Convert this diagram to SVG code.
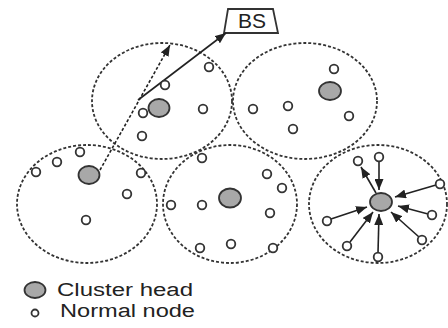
<svg xmlns="http://www.w3.org/2000/svg" width="448" height="328" viewBox="0 0 448 328">
<defs>
<style>
.zone{fill:none;stroke:#333;stroke-width:1.8;stroke-dasharray:3 2}
.ch{fill:#a8a8a8;stroke:#333;stroke-width:1.8}
.nn{fill:#fff;stroke:#333;stroke-width:1.8}
.ln{stroke:#222;stroke-width:1.6;fill:none}
.dash{stroke:#222;stroke-width:1.6;fill:none;stroke-dasharray:3 2}
.lbl{font-family:"Liberation Sans",Arial,sans-serif;fill:#222}
</style>
<marker id="ah" viewBox="0 0 11 9" refX="11" refY="4.5" markerWidth="11" markerHeight="9" markerUnits="userSpaceOnUse" orient="auto">
<path d="M0,0 L11,4.5 L0,9 z" fill="#222"/>
</marker>
</defs>
<rect width="448" height="328" fill="#fff"/>
<g id="clusters">
<ellipse class="zone" cx="162" cy="101" rx="70" ry="58"/>
<ellipse class="zone" cx="305" cy="101" rx="72" ry="58"/>
<ellipse class="zone" cx="87" cy="204" rx="70" ry="59"/>
<ellipse class="zone" cx="230" cy="204" rx="67" ry="59"/>
<ellipse class="zone" cx="378" cy="204" rx="69" ry="59"/>
</g>
<g id="bs">
<polygon points="228,9 273,9 278,33 224,33" fill="#fff" stroke="#333" stroke-width="1.8"/>
<text class="lbl" x="252" y="28" font-size="21" text-anchor="middle">BS</text>
</g>
<g id="connectors">
<line class="ln" x1="138" y1="100" x2="226" y2="33" marker-end="url(#ah)"/>
<line class="dash" x1="100" y1="170" x2="170" y2="45" marker-end="url(#ah)"/>
<line class="ln" x1="376" y1="193" x2="361" y2="167" marker-end="url(#ah)"/>
<line class="ln" x1="379" y1="162" x2="379" y2="190" marker-end="url(#ah)"/>
<line class="ln" x1="436" y1="185" x2="395" y2="197" marker-end="url(#ah)"/>
<line class="ln" x1="331" y1="219" x2="367" y2="207" marker-end="url(#ah)"/>
<line class="ln" x1="428" y1="214" x2="398" y2="206" marker-end="url(#ah)"/>
<line class="ln" x1="350" y1="242" x2="373" y2="212" marker-end="url(#ah)"/>
<line class="ln" x1="419" y1="237" x2="391" y2="212" marker-end="url(#ah)"/>
<line class="ln" x1="378" y1="253" x2="379" y2="214" marker-end="url(#ah)"/>
</g>
<g id="cluster-top-middle">
<ellipse class="ch" cx="159" cy="108" rx="10.5" ry="9"/>
<circle class="nn" cx="165" cy="85" r="4.3"/>
<circle class="nn" cx="209" cy="67" r="4.3"/>
<circle class="nn" cx="203" cy="109" r="4.3"/>
<circle class="nn" cx="143" cy="113" r="4.3"/>
<circle class="nn" cx="142" cy="136" r="4.3"/>
</g>
<g id="cluster-top-right">
<ellipse class="ch" cx="330" cy="91" rx="11" ry="9"/>
<circle class="nn" cx="334" cy="69" r="4.3"/>
<circle class="nn" cx="288" cy="106" r="4.3"/>
<circle class="nn" cx="253" cy="109" r="4.3"/>
<circle class="nn" cx="293" cy="129" r="4.3"/>
<circle class="nn" cx="349" cy="116" r="4.3"/>
</g>
<g id="cluster-bottom-left">
<ellipse class="ch" cx="89" cy="175" rx="10.5" ry="9"/>
<circle class="nn" cx="36" cy="172" r="4.3"/>
<circle class="nn" cx="57" cy="162" r="4.3"/>
<circle class="nn" cx="80" cy="152" r="4.3"/>
<circle class="nn" cx="141" cy="173" r="4.3"/>
<circle class="nn" cx="127" cy="194" r="4.3"/>
<circle class="nn" cx="86" cy="220" r="4.3"/>
</g>
<g id="cluster-bottom-middle">
<ellipse class="ch" cx="230" cy="198" rx="11" ry="9.5"/>
<circle class="nn" cx="202" cy="158" r="4.3"/>
<circle class="nn" cx="171" cy="205" r="4.3"/>
<circle class="nn" cx="202" cy="205" r="4.3"/>
<circle class="nn" cx="267" cy="174" r="4.3"/>
<circle class="nn" cx="282" cy="188" r="4.3"/>
<circle class="nn" cx="270" cy="213" r="4.3"/>
<circle class="nn" cx="200" cy="248" r="4.3"/>
<circle class="nn" cx="231" cy="244" r="4.3"/>
<circle class="nn" cx="273" cy="248" r="4.3"/>
</g>
<g id="cluster-bottom-right">
<ellipse class="ch" cx="381" cy="202" rx="11" ry="9"/>
<circle class="nn" cx="358" cy="161" r="4.3"/>
<circle class="nn" cx="379" cy="157" r="4.3"/>
<circle class="nn" cx="440" cy="184" r="4.3"/>
<circle class="nn" cx="327" cy="221" r="4.3"/>
<circle class="nn" cx="432" cy="215" r="4.3"/>
<circle class="nn" cx="347" cy="246" r="4.3"/>
<circle class="nn" cx="422" cy="240" r="4.3"/>
<circle class="nn" cx="378" cy="257" r="4.3"/>
</g>
<g id="legend">
<ellipse class="ch" cx="35" cy="290" rx="10.5" ry="8"/>
<text class="lbl" x="57" y="296" font-size="18" textLength="136" lengthAdjust="spacingAndGlyphs">Cluster head</text>
<circle class="nn" cx="35" cy="313" r="3.5"/>
<text class="lbl" x="60" y="317" font-size="18" textLength="135" lengthAdjust="spacingAndGlyphs">Normal node</text>
</g>
</svg>
